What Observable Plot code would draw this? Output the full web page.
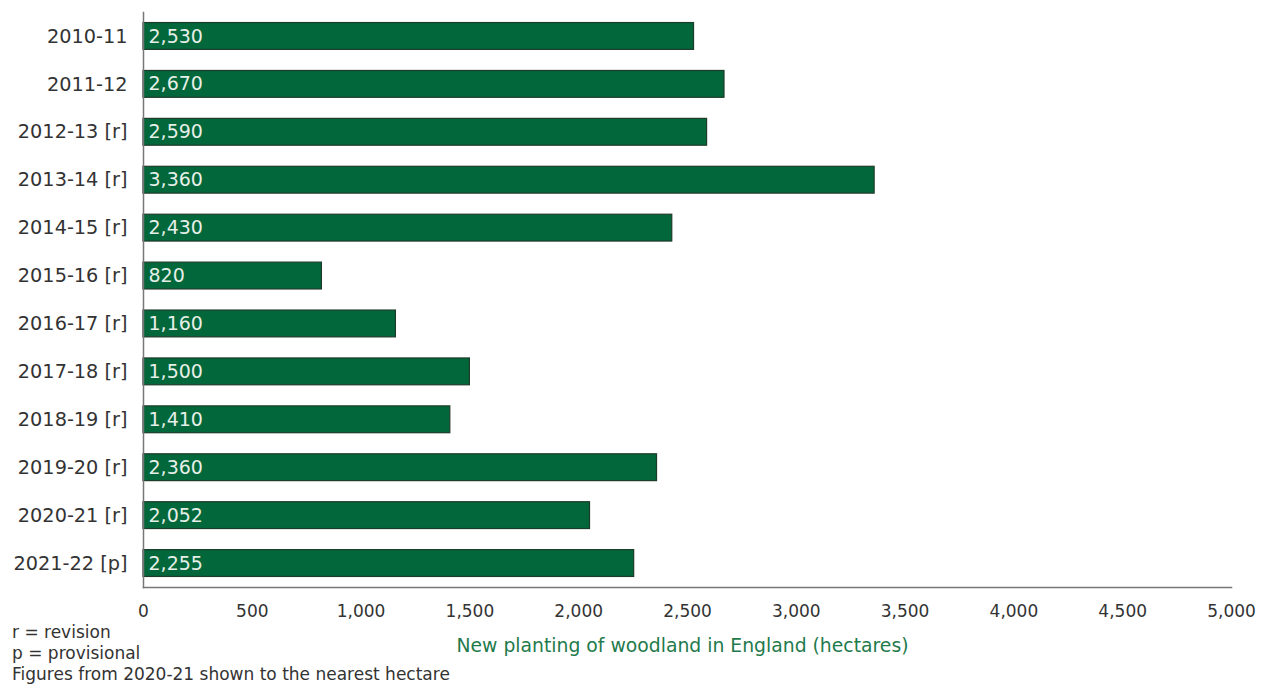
<!DOCTYPE html>
<html><head><meta charset="utf-8">
<script src="https://cdn.jsdelivr.net/npm/d3@7"></script>
<script src="https://cdn.jsdelivr.net/npm/@observablehq/plot@0.6"></script>
<style>
body{margin:0;background:#fff;font-family:"DejaVu Sans",Verdana,sans-serif;}
#wrap{position:relative;width:1268px;height:684px;}
#notes{position:absolute;left:12px;top:622px;font-size:17px;line-height:21px;color:#333;}
</style></head>
<body><div id="wrap"><div id="chart"></div>
<div id="notes">r = revision<br>p = provisional<br>Figures from 2020-21 shown to the nearest hectare</div></div>
<script>
const years = ["2010-11","2011-12","2012-13 [r]","2013-14 [r]","2014-15 [r]","2015-16 [r]","2016-17 [r]","2017-18 [r]","2018-19 [r]","2019-20 [r]","2020-21 [r]","2021-22 [p]"];
const hectares = [2530,2670,2590,3360,2430,820,1160,1500,1410,2360,2052,2255];
const xTicks = [0,500,1000,1500,2000,2500,3000,3500,4000,4500,5000];
const xLabel = "New planting of woodland in England (hectares)";
const data = years.map((y,i)=>({year:y, value:hectares[i]}));
const fmt = d3.format(",");
const chart = Plot.plot({
  width:1268, height:684,
  marginTop:12, marginBottom:97, marginLeft:143, marginRight:37,
  style:{fontFamily:"DejaVu Sans, Verdana, sans-serif", color:"#333", background:"#fff"},
  x:{domain:[0,5000]},
  y:{domain:years, paddingInner:0.44, paddingOuter:0.22, round:false},
  marks:[
    Plot.barX(data,{x:"value", y:"year", fill:"#02673a", stroke:"#1d3b2a", strokeWidth:1.2}),
    Plot.text(data,{x:0, y:"year", text:d=>fmt(d.value), textAnchor:"start", dx:5, fill:"#e6efe8", fontSize:19}),
    Plot.axisX({ticks:xTicks, tickFormat:fmt, tickSize:0, tickPadding:17, fontSize:17, label:null}),
    Plot.axisY({tickSize:0, tickPadding:16, fontSize:19.3, label:null}),
    Plot.frame({anchor:"bottom", stroke:"#777", strokeWidth:1.5}),
    Plot.frame({anchor:"left", stroke:"#777", strokeWidth:1.5}),
    Plot.text([xLabel],{frameAnchor:"bottom", dy:64, dx:-5, fill:"#1f7a4c", fontSize:18.8})
  ]
});
document.getElementById("chart").appendChild(chart);
</script>
</body></html>
